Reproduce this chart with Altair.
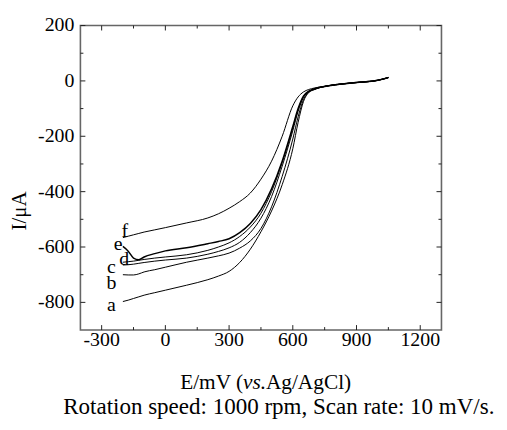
import altair as alt
import pandas as pd

# ---- data ----
E = [-200, -175, -150, -125, -100, -50, 0, 100, 200, 250, 300, 350, 400, 450, 500,
     550, 600, 625, 650, 675, 700, 750, 800, 900, 1000, 1050]

I_a = [-797, -792, -786, -780, -774, -765, -756, -738, -718, -705, -688, -656, -608, -545, -470,
       -375, -245, -150, -75, -42, -32, -20, -14, -6, 2, 12]
I_b = [-700, -701, -701, -697, -690, -682, -673, -655, -640, -632, -622, -604, -578, -533, -455,
       -345, -210, -130, -68, -41, -31, -20, -14, -6, 2, 12]
I_c = [-665, -664, -662, -659, -656, -651, -647, -640, -626, -616, -603, -583, -548, -496, -418,
       -308, -180, -110, -60, -39, -30, -20, -14, -6, 2, 12]
I_d = [-655, -653, -651, -648, -645, -640, -636, -628, -612, -600, -585, -562, -528, -478, -400,
       -295, -170, -104, -57, -38, -29, -20, -14, -6, 2, 12]
I_e = [-598, -615, -640, -646, -636, -624, -614, -603, -588, -580, -570, -548, -515, -465, -390,
       -290, -165, -100, -55, -37, -29, -20, -14, -6, 2, 12]
I_f = [-566, -561, -556, -551, -546, -538, -530, -513, -495, -480, -460, -436, -405, -355, -290,
       -200, -90, -58, -40, -31, -26, -19, -13, -5, 3, 13]

curve_names = ["a", "b", "c", "d", "e", "f"]
curve_values = [I_a, I_b, I_c, I_d, I_e, I_f]

label_text = ["a", "b", "c", "d", "e", "f"]
label_E = [-254, -254, -254, -194, -222, -191]
label_I = [-811, -729, -672, -643, -590, -541]

x_major = [-300, 0, 300, 600, 900, 1200]
x_minor = [-150, 150, 450, 750, 1050]
y_major = [-800, -600, -400, -200, 0, 200]
y_minor = [-700, -500, -300, -100, 100]

x_title_a = "E/mV ("
x_title_b = "vs."
x_title_c = "Ag/AgCl)"
y_title = "I/\u03bcA"
caption = "Rotation speed: 1000 rpm, Scan rate: 10 mV/s."

# ---- tables ----
rows = []
for name, vals in zip(curve_names, curve_values):
    for x, y in zip(E, vals):
        rows.append({"E": x, "I": y, "curve": name, "w": 1.5 if name == "e" else 1.0})
df = pd.DataFrame(rows)
lab_df = pd.DataFrame({"E": label_E, "I": label_I, "t": label_text})

FONT = "Liberation Serif"
W, H = 364, 307
MAJ, MIN = 5, 3
TICK = "#222"
xs = alt.Scale(domain=[-400, 1300], nice=False, zero=False)
ys = alt.Scale(domain=[-900, 200], nice=False, zero=False)

lines = alt.Chart(df).mark_line(color="black", interpolate="monotone").encode(
    x=alt.X("E:Q", scale=xs, axis=None),
    y=alt.Y("I:Q", scale=ys, axis=None),
    detail="curve:N",
    strokeWidth=alt.StrokeWidth("w:Q", scale=None),
)

letters = alt.Chart(lab_df).mark_text(font=FONT, fontSize=20, color="black",
                                      align="center", baseline="middle").encode(
    x=alt.X("E:Q", scale=xs, axis=None),
    y=alt.Y("I:Q", scale=ys, axis=None),
    text="t:N",
)


def xticks(vals, p0, p1):
    return alt.Chart(pd.DataFrame({"v": vals})).mark_rule(color=TICK, strokeWidth=1).encode(
        x=alt.X("v:Q", scale=xs, axis=None), y=alt.value(p0), y2=alt.value(p1))


def yticks(vals, p0, p1):
    return alt.Chart(pd.DataFrame({"v": vals})).mark_rule(color=TICK, strokeWidth=1).encode(
        y=alt.Y("v:Q", scale=ys, axis=None), x=alt.value(p0), x2=alt.value(p1))


tick_layers = [
    xticks(x_major, H, H - MAJ), xticks(x_minor, H, H - MIN),
    xticks(x_major, 0, MAJ), xticks(x_minor, 0, MIN),
    yticks(y_major, 0, MAJ), yticks(y_minor, 0, MIN),
    yticks(y_major, W, W - MAJ), yticks(y_minor, W, W - MIN),
]

x_lab = alt.Chart(pd.DataFrame({"v": x_major, "s": [str(v) for v in x_major]})).mark_text(
    font=FONT, fontSize=20, color="black", align="center", baseline="alphabetic").encode(
    x=alt.X("v:Q", scale=xs, axis=None), y=alt.value(H + 16), text="s:N")

y_lab = alt.Chart(pd.DataFrame({"v": y_major, "s": [str(v) for v in y_major]})).mark_text(
    font=FONT, fontSize=20, color="black", align="right", baseline="middle").encode(
    y=alt.Y("v:Q", scale=ys, axis=None), x=alt.value(-6), text="s:N")

one = alt.Data(values=[{"k": 1}])


def txt(s, x, y, align="left", style="normal", size=20.0, angle=0, baseline="alphabetic"):
    return alt.Chart(one).mark_text(text=s, font=FONT, fontSize=size, fontStyle=style,
                                    align=align, baseline=baseline, angle=angle,
                                    color="black").encode(
        x=alt.value(x), y=alt.value(y))


t1 = txt(x_title_a, 164, 366, align="right", size=21.5)
t2 = txt(x_title_b, 164, 366, style="italic", size=21.5)
t3 = txt(x_title_c, 187, 366, size=21.5)
t4 = txt(caption, 200, 392, align="center", size=23.2)
t5 = txt(y_title, -61, 187, align="center", size=21, angle=270, baseline="middle")

chart = alt.layer(lines, letters, *tick_layers, x_lab, y_lab, t1, t2, t3, t4, t5).properties(
    width=W, height=H,
    autosize=alt.AutoSizeParams(type="none"),
    padding={"left": 73, "top": 16, "right": 58, "bottom": 90},
).configure_view(stroke="#666", strokeWidth=1.6)

chart.save("out.html", embed_options={"renderer": "svg", "actions": False})
